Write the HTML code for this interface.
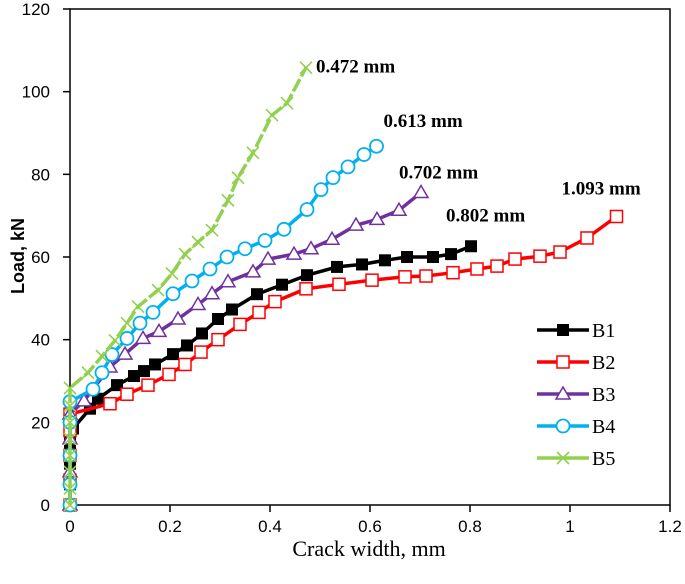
<!DOCTYPE html>
<html><head><meta charset="utf-8"><style>
html,body{margin:0;padding:0;background:#fff;}
svg{display:block;}
</style></head><body>
<svg id="chart" width="685" height="584" viewBox="0 0 685 584" xmlns="http://www.w3.org/2000/svg">
</svg>
<script>
const xTicks = [0, 0.2, 0.4, 0.6, 0.8, 1, 1.2];
const xTickLabels = ["0", "0.2", "0.4", "0.6", "0.8", "1", "1.2"];
const yTicks = [0, 20, 40, 60, 80, 100, 120];
const seriesNames = ["B1", "B2", "B3", "B4", "B5"];
const b1X = [0,0,0,0,0.006,0.04,0.056,0.094,0.128,0.148,0.17,0.206,0.234,0.264,0.296,0.324,0.374,0.424,0.474,0.534,0.584,0.63,0.674,0.726,0.762,0.802];
const b1Y = [0,5,10,15,18.5,23.3,25.7,29,31.2,32.4,34,36.5,38.6,41.5,45,47.3,51,53.3,55.6,57.6,58.2,59.2,60,60,60.7,62.6];
const b2X = [0,0,0,0,0,0.08,0.114,0.156,0.198,0.23,0.262,0.296,0.34,0.378,0.41,0.472,0.538,0.604,0.67,0.712,0.766,0.814,0.854,0.89,0.94,0.98,1.034,1.093];
const b2Y = [0,6,12,18,22,24.5,26.8,29,31.6,34,37,40,43.7,46.6,49.2,52.3,53.4,54.4,55.2,55.4,56.2,57.1,57.8,59.5,60.2,61.2,64.6,69.8];
const b3X = [0,0,0,0,0.028,0.08,0.11,0.146,0.178,0.216,0.256,0.284,0.316,0.366,0.396,0.448,0.482,0.524,0.572,0.614,0.658,0.702];
const b3Y = [0,8,16,22,25.2,33.4,36.5,40.3,42,45,48.5,51.1,54,56.4,59.5,60.7,62,64.3,67.7,69.1,71.3,75.6];
const b4X = [0,0,0,0,0,0.046,0.064,0.084,0.114,0.14,0.166,0.206,0.244,0.28,0.314,0.35,0.39,0.428,0.474,0.502,0.526,0.556,0.588,0.613];
const b4Y = [0,5,12,20,25,28,32,36.4,40.3,44,46.6,51.1,54.2,57.1,60,62,64,66.7,71.5,76.3,79.2,81.8,84.8,86.8];
const b5X = [0,0,0,0,0,0,0,0,0.036,0.064,0.09,0.114,0.136,0.176,0.204,0.23,0.256,0.284,0.316,0.336,0.366,0.404,0.434,0.472];
const b5Y = [0,4,8,12,16,20,24,28.3,32,36,39.8,44,48,52,56,60.7,63.6,66.5,73.7,79.2,85.2,94.3,97.2,105.8];
const endLabels = ["0.802 mm", "1.093 mm", "0.702 mm", "0.613 mm", "0.472 mm"];

const NS = "http://www.w3.org/2000/svg";
const svg = document.getElementById("chart");
const L = 70, R = 670, T = 9, B = 505;
const xMax = 1.2, yMax = 120;
function sx(v){ return L + v / xMax * (R - L); }
function sy(v){ return B - v / yMax * (B - T); }
function mk(tag, attrs, parent){
  const e = document.createElementNS(NS, tag);
  for (const k in attrs) e.setAttribute(k, attrs[k]);
  (parent || svg).appendChild(e);
  return e;
}
const box = mk("rect", {x:L, y:T, width:R-L, height:B-T, fill:"none", stroke:"#000", "stroke-width":1.5});



xTicks.forEach((v, i) => {
  const t = mk("line", {x1:sx(v), x2:sx(v), y1:B, y2:B+7, stroke:"#000", "stroke-width":1.5});
  
  
  const tx = mk("text", {x:sx(v), y:B+27, "text-anchor":"middle", "font-family":"Liberation Sans, sans-serif", "font-size":17});
  tx.textContent = xTickLabels[i];
  
  
});
yTicks.forEach(v => {
  const t = mk("line", {x1:L-7, x2:L, y1:sy(v), y2:sy(v), stroke:"#000", "stroke-width":1.5});
  
  
  const tx = mk("text", {x:L-20, y:sy(v)+6, "text-anchor":"end", "font-family":"Liberation Sans, sans-serif", "font-size":17});
  tx.textContent = String(v);
  
  
});
const xt = mk("text", {x:369, y:556, "text-anchor":"middle", "font-family":"Liberation Serif, serif", "font-size":22});
xt.textContent = "Crack width, mm";


const yt = mk("text", {x:0, y:0, "text-anchor":"middle", "font-family":"Liberation Sans, sans-serif", "font-size":18, "font-weight":"bold", transform:"translate(24,256) rotate(-90)"});
yt.textContent = "Load, kN";



const colors = ["#000000", "#ff0000", "#7030a0", "#00b0f0", "#92d050"];
const markers = ["fsquare", "square", "triangle", "circle", "cross"];
const allX = [b1X, b2X, b3X, b4X, b5X];
const allY = [b1Y, b2Y, b3Y, b4Y, b5Y];

function marker(g, type, x, y, c){
  let e;
  if (type === "fsquare") e = mk("rect", {x:x-6, y:y-6, width:12, height:12, fill:c}, g);
  else if (type === "square") e = mk("rect", {x:x-6, y:y-6, width:12, height:12, fill:"#fff", stroke:c, "stroke-width":1.5}, g);
  else if (type === "triangle") e = mk("polygon", {points:`${x},${y-7} ${x+7},${y+5} ${x-7},${y+5}`, fill:"#fff", stroke:c, "stroke-width":1.5}, g);
  else if (type === "circle") e = mk("circle", {cx:x, cy:y, r:6.5, fill:"#fff", stroke:c, "stroke-width":1.8}, g);
  else e = mk("path", {d:`M${x-6},${y-6}L${x+6},${y+6}M${x-6},${y+6}L${x+6},${y-6}`, stroke:c, "stroke-width":1.6, fill:"none"}, g);
  
  
}

[0,1,2,3,4].forEach(s => {
  const g = mk("g", {});
  
  
  const xs = allX[s], ys = allY[s];
  const d = xs.map((v,i) => (i ? "L" : "M") + sx(v).toFixed(1) + "," + sy(ys[i]).toFixed(1)).join("");
  const ln = mk("path", {d, fill:"none", stroke:colors[s], "stroke-width":3.5, "stroke-linejoin":"round", "stroke-dasharray": s === 4 ? "14,3" : "none"}, g);
  
  
  xs.forEach((v,i) => marker(g, markers[s], sx(v), sy(ys[i]), colors[s]));
  const lx = sx(xs[xs.length-1]), ly = sy(ys[ys.length-1]);
  const off = [[-25,-25],[-55,-22],[-22,-14],[7,-19],[10,5]][s];
  const lt = mk("text", {x:lx+off[0], y:ly+off[1], "font-family":"Liberation Serif, serif", "font-size":19, "font-weight":"bold"});
  lt.textContent = endLabels[s];
  
  
  const lg = mk("g", {});
  
  
  const yy = 330 + s * 32;
  mk("line", {x1:537, x2:589, y1:yy, y2:yy, stroke:colors[s], "stroke-width":3.5}, lg);
  marker(lg, markers[s], 563, yy, colors[s]);
  const tt = mk("text", {x:592, y:yy+7, "font-family":"Liberation Serif, serif", "font-size":20}, lg);
  tt.textContent = seriesNames[s];
});
</script>
</body></html>
